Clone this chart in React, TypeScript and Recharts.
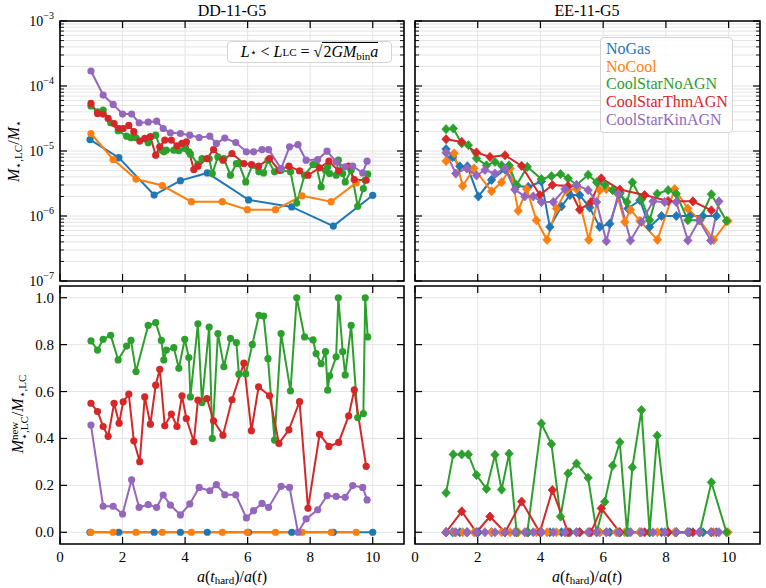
import React from 'react'
import { LineChart, Line, XAxis, YAxis, CartesianGrid, ReferenceArea, Legend } from 'recharts'

const W = 766
const H = 588
const FONT = '"Liberation Serif", "Times New Roman", serif'

const BLUE = '#1f77b4'
const ORANGE = '#ff7f0e'
const GREEN = '#2ca02c'
const RED = '#d62728'
const PURPLE = '#9467bd'

const seriesNames = ['NoGas', 'NoCool', 'CoolStarNoAGN', 'CoolStarThmAGN', 'CoolStarKinAGN']
const xTicks = [0, 2, 4, 6, 8, 10]
const linTicks = [0, 0.2, 0.4, 0.6, 0.8, 1.0]
const logTicks = [
  1e-7, 2e-7, 3e-7, 4e-7, 5e-7, 6e-7, 7e-7, 8e-7, 9e-7,
  1e-6, 2e-6, 3e-6, 4e-6, 5e-6, 6e-6, 7e-6, 8e-6, 9e-6,
  1e-5, 2e-5, 3e-5, 4e-5, 5e-5, 6e-5, 7e-5, 8e-5, 9e-5,
  1e-4, 2e-4, 3e-4, 4e-4, 5e-4, 6e-4, 7e-4, 8e-4, 9e-4,
  1e-3,
]

// ---- DD-11-G5 (left column) ----
const ddGasX = [0.96, 1.88, 3.01, 3.85, 4.71, 6.03, 7.41, 8.74, 10.0]
const ddGasTop = [1.5e-5, 7.9e-6, 2.1e-6, 3.5e-6, 4.6e-6, 1.77e-6, 1.38e-6, 7.0e-7, 2.08e-6]
const ddGasNew = [0, 0, 0, 0, 0, 0, 0, 0, 0]

const ddCoolX = [0.99, 1.7, 2.43, 3.27, 4.2, 5.19, 5.99, 6.89, 7.74, 8.67, 9.47]
const ddCoolTop = [1.86e-5, 7.4e-6, 3.7e-6, 2.94e-6, 1.66e-6, 1.66e-6, 1.25e-6, 1.25e-6, 2.04e-6, 1.66e-6, 3.23e-6]
const ddCoolNew = [0, 0, 0, 0, 0, 0, 0, 0, 0, 0, 0]

const ddNoAgnX = [
  0.99, 1.2, 1.38, 1.62, 1.86, 2.13, 2.27, 2.43, 2.82, 3.06, 3.24, 3.32, 3.4, 3.64, 3.8, 3.99, 4.12, 4.17,
  4.41, 4.54, 4.77, 4.87, 5.05, 5.24, 5.45, 5.64, 5.72, 5.94, 6.15, 6.36, 6.51, 6.65, 6.86, 7.07, 7.37, 7.57,
  7.82, 8.09, 8.19, 8.35, 8.49, 8.56, 8.62, 8.83, 8.9, 9.04, 9.12, 9.31, 9.52, 9.7, 9.76, 9.84,
]
const ddNoAgnTop = [
  4.92e-5, 4.02e-5, 4.26e-5, 2.72e-5, 2.05e-5, 1.69e-5, 1.6e-5, 1.6e-5, 1.34e-5, 1.75e-5, 1.03e-5, 9.7e-6,
  1.03e-5, 1.03e-5, 1.01e-5, 1.09e-5, 9.7e-6, 8.93e-6, 6.27e-6, 7.66e-6, 7.66e-6, 4.5e-6, 8.12e-6, 7.66e-6,
  4.24e-6, 6.41e-6, 6.41e-6, 3.34e-6, 6.04e-6, 4.78e-6, 4.6e-6, 7.23e-6, 4.78e-6, 5.06e-6, 4.78e-6, 1.58e-6,
  4.24e-6, 6.19e-6, 6.19e-6, 2.8e-6, 5.06e-6, 5.7e-6, 4.5e-6, 4.24e-6, 7.23e-6, 4.5e-6, 3.34e-6, 5.06e-6,
  1.41e-6, 2.64e-6, 3.55e-6, 4.4e-6,
]
const ddNoAgnNew = [
  0.816, 0.777, 0.823, 0.84, 0.735, 0.794, 0.818, 0.685, 0.882, 0.894, 0.818, 0.735, 0.777, 0.787, 0.699,
  0.823, 0.745, 0.577, 0.889, 0.553, 0.875, 0.4, 0.847, 0.706, 0.827, 0.809, 0.674, 0.675, 0.801, 0.925,
  0.922, 0.74, 0.393, 0.847, 0.603, 1.0, 0.833, 0.82, 0.762, 0.719, 0.77, 0.606, 0.667, 0.748, 1.0, 0.77,
  0.671, 0.882, 0.489, 0.506, 1.0, 0.833,
]

const ddThmX = [
  0.99, 1.2, 1.38, 1.54, 1.73, 1.89, 2.02, 2.2, 2.36, 2.55, 2.71, 2.89, 3.06, 3.19, 3.35, 3.56, 3.74, 3.9,
  4.04, 4.28, 4.41, 4.7, 4.91, 5.21, 5.5, 5.88, 6.12, 6.35, 6.7, 7.0, 7.32, 7.66, 7.93, 8.3, 8.6, 8.91, 9.23,
  9.41, 9.79,
]
const ddThmTop = [
  5.4e-5, 3.79e-5, 3.7e-5, 3.17e-5, 2.65e-5, 2.22e-5, 2.22e-5, 2.47e-5, 1.98e-5, 1.42e-5, 1.56e-5, 1.66e-5,
  8.63e-6, 1.16e-5, 1.47e-5, 1.47e-5, 1.2e-5, 1.31e-5, 1.38e-5, 5.19e-6, 5.84e-6, 7.66e-6, 1.05e-5, 7.23e-6,
  9.15e-6, 6.41e-6, 6.19e-6, 5.84e-6, 7.66e-6, 5.06e-6, 5.84e-6, 4.94e-6, 4.24e-6, 5.5e-6, 6.97e-6, 4.94e-6,
  5.84e-6, 3.63e-6, 3.55e-6,
]
const ddThmNew = [
  0.55, 0.515, 0.451, 0.409, 0.55, 0.465, 0.556, 0.589, 0.39, 0.301, 0.577, 0.461, 0.627, 0.695, 0.454, 0.504,
  0.451, 0.582, 0.485, 0.386, 0.563, 0.57, 0.475, 0.414, 0.565, 0.721, 0.433, 0.62, 0.582, 0.379, 0.437,
  0.557, 0.102, 0.418, 0.366, 0.383, 0.496, 0.607, 0.281,
]

const ddKinX = [
  0.99, 1.38, 1.7, 2.0, 2.29, 2.53, 2.82, 3.09, 3.3, 3.53, 3.85, 4.15, 4.45, 4.79, 5.0, 5.27, 5.62, 5.96, 6.19,
  6.46, 6.67, 7.07, 7.34, 7.61, 7.87, 8.24, 8.54, 8.83, 9.12, 9.36, 9.68, 9.82,
]
const ddKinTop = [
  1.7e-4, 7.26e-5, 5.21e-5, 3.7e-5, 3.7e-5, 2.72e-5, 2.78e-5, 2.88e-5, 2.22e-5, 1.91e-5, 1.86e-5, 1.75e-5,
  1.61e-5, 1.69e-5, 1.31e-5, 1.58e-5, 1.35e-5, 9.7e-6, 9.7e-6, 1.05e-5, 1.05e-5, 5.37e-6, 1.16e-5, 1.25e-5,
  7.23e-6, 7.4e-6, 9.94e-6, 6.81e-6, 5.7e-6, 5.84e-6, 4.6e-6, 6.97e-6,
]
const ddKinNew = [
  0.457, 0.111, 0.111, 0.078, 0.224, 0.106, 0.118, 0.106, 0.159, 0.116, 0.074, 0.121, 0.191, 0.177, 0.203,
  0.16, 0.16, 0.061, 0.092, 0.123, 0.106, 0.196, 0.191, 0.0, 0.057, 0.096, 0.156, 0.153, 0.149, 0.199, 0.191,
  0.138,
]

// ---- EE-11-G5 (right column) ----
const eeGasX = [
  0.99, 1.2, 1.43, 1.67, 2.02, 2.44, 2.87, 3.24, 3.61, 4.03, 4.3, 4.67, 4.94, 5.25, 5.57, 5.89, 6.21, 6.53,
  6.79, 7.17, 7.48, 7.86, 8.33, 8.76, 9.18, 9.61,
]
const eeGasTop = [
  1.07e-5, 8.1e-6, 5.8e-6, 5.8e-6, 2.0e-6, 3.6e-6, 5.2e-6, 2.9e-6, 2.8e-6, 3.4e-6, 6.8e-7, 1.4e-6, 2.1e-6,
  2.1e-6, 1.35e-6, 6.8e-7, 7.6e-7, 2.3e-6, 1.3e-6, 1.75e-6, 6.8e-7, 1.0e-6, 1.0e-6, 1.0e-6, 1.0e-6, 1.0e-6,
]
const eeGasNew = [0, 0, 0, 0, 0, 0, 0, 0, 0, 0, 0, 0, 0, 0, 0, 0, 0, 0, 0, 0, 0, 0, 0, 0, 0, 0]

const eeCoolX = [
  0.99, 1.25, 1.52, 1.88, 2.44, 2.76, 3.03, 3.29, 3.56, 3.87, 4.21, 4.51, 4.83, 5.15, 5.54, 5.89, 6.1, 6.42,
  6.69, 6.87, 7.17, 7.73, 8.28, 8.7, 9.08, 9.52, 9.98,
]
const eeCoolTop = [
  7.0e-6, 9.2e-6, 2.9e-6, 5.4e-6, 2.4e-6, 3.3e-6, 5.4e-6, 1.2e-6, 2.6e-6, 8.6e-7, 4.3e-7, 1.3e-6, 2.5e-6,
  2.6e-6, 4.3e-7, 2.5e-6, 2.6e-6, 2.3e-6, 8.1e-7, 1.25e-6, 8.4e-7, 4.3e-7, 2.6e-6, 1.3e-6, 8.6e-7, 4.3e-7,
  8.4e-7,
]
const eeCoolNew = [0, 0, 0, 0, 0, 0, 0, 0, 0, 0, 0, 0, 0, 0, 0, 0, 0, 0, 0, 0, 0, 0, 0, 0, 0, 0, 0]

const eeNoAgnX = [
  0.99, 1.22, 1.49, 1.7, 1.96, 2.28, 2.55, 2.76, 3.0, 3.24, 3.58, 4.03, 4.35, 4.64, 4.88, 5.15, 5.52, 5.79,
  6.05, 6.3, 6.53, 6.76, 6.93, 7.22, 7.48, 7.72, 8.07, 8.33, 8.7, 9.08, 9.45, 9.93,
]
const eeNoAgnTop = [
  2.17e-5, 2.22e-5, 1.31e-5, 1.23e-5, 7.7e-6, 6.0e-6, 6.8e-6, 6.0e-6, 6.0e-6, 3.0e-6, 5.7e-6, 3.7e-6, 4.1e-6,
  4.4e-6, 3.8e-6, 3.0e-6, 4.3e-6, 3.3e-6, 3.0e-6, 2.5e-6, 2.2e-6, 1.64e-6, 3.3e-6, 1.8e-6, 8.6e-7, 2.2e-6,
  2.5e-6, 2.2e-6, 8.6e-7, 8.6e-7, 2.16e-6, 8.4e-7,
]
const eeNoAgnNew = [
  0.168, 0.332, 0.332, 0.332, 0.244, 0.185, 0.33, 0.182, 0.335, 0, 0, 0.464, 0.376, 0.067, 0.251, 0.293,
  0.232, 0, 0.13, 0.284, 0.384, 0, 0.277, 0.521, 0, 0.412, 0, 0, 0, 0, 0.213, 0,
]

const eeThmX = [0.99, 1.49, 1.96, 2.39, 2.87, 3.4, 3.98, 4.38, 4.88, 5.25, 5.61, 5.94, 6.53, 7.32, 8.07, 8.86, 9.45]
const eeThmTop = [
  1.52e-5, 1.38e-5, 9.5e-6, 8.1e-6, 8.6e-6, 5.9e-6, 2.1e-6, 3.0e-6, 2.9e-6, 1.25e-6, 1.64e-6, 3.8e-6, 2.55e-6,
  2.1e-6, 1.7e-6, 1.68e-6, 1.22e-6,
]
const eeThmNew = [0, 0.089, 0, 0.067, 0, 0.131, 0, 0.18, 0, 0, 0, 0.102, 0, 0, 0, 0, 0]

const eeKinX = [
  0.99, 1.3, 1.65, 1.96, 2.23, 2.55, 2.87, 3.18, 3.5, 3.77, 4.03, 4.41, 4.78, 5.15, 5.52, 5.79, 6.1, 6.48,
  6.87, 7.22, 7.59, 7.96, 8.33, 8.7, 9.06, 9.43, 9.69,
]
const eeKinTop = [
  9.4e-6, 4.5e-6, 5.4e-6, 4.2e-6, 5.1e-6, 4.5e-6, 5.4e-6, 2.55e-6, 2.0e-6, 2.0e-6, 1.64e-6, 1.64e-6, 2.6e-6,
  3.0e-6, 2.5e-6, 1.64e-6, 4.1e-7, 2.2e-6, 4.2e-7, 8.1e-7, 1.68e-6, 1.64e-6, 1.64e-6, 4.2e-7, 8.6e-7, 4.2e-7,
  1.68e-6,
]
const eeKinNew = [0, 0, 0, 0, 0, 0, 0, 0, 0, 0, 0, 0, 0, 0, 0, 0, 0, 0, 0, 0, 0, 0, 0, 0, 0, 0, 0]

interface Series {
  name: string
  color: string
  x: number[]
  y: number[]
}

const toPoints = (xs: number[], ys: number[]) => xs.map((x, i) => ({ x, y: ys[i] }))

const isDecade = (v: number) => Math.abs(Math.log10(v) - Math.round(Math.log10(v))) < 1e-9

function Diamond(props: any) {
  const { cx, cy, color } = props
  if (cx == null || cy == null) return null
  return (
    <path
      d={`M${cx},${cy - 4.6}L${cx + 4.2},${cy}L${cx},${cy + 4.6}L${cx - 4.2},${cy}Z`}
      fill={color}
      stroke={color}
      strokeWidth={0.8}
      strokeLinejoin="round"
    />
  )
}

const textStyle: React.CSSProperties = { fontFamily: FONT }

const xTick = (top: number, labels: boolean) => (props: any) => {
  const { x, y, payload } = props
  return (
    <g>
      <line x1={x} x2={x} y1={y} y2={y - 7} stroke="#000" strokeWidth={1.2} />
      <line x1={x} x2={x} y1={top} y2={top + 7} stroke="#000" strokeWidth={1.2} />
      {labels && (
        <text x={x} y={y + 18} textAnchor="middle" fontSize={15} style={textStyle} fill="#000">
          {payload.value}
        </text>
      )}
    </g>
  )
}

const yTick = (right: number, log: boolean, labels: boolean) => (props: any) => {
  const { x, y, payload } = props
  const v = payload.value as number
  const major = !log || isDecade(v)
  const len = major ? 7 : 4
  let label = null
  if (labels && major) {
    label = log ? (
      <text x={x - 6} y={y + 5} textAnchor="end" style={textStyle} fill="#000">
        <tspan fontSize={14}>10</tspan>
        <tspan fontSize={10} dy={-7}>{`\u2212${-Math.round(Math.log10(v))}`}</tspan>
      </text>
    ) : (
      <text x={x - 6} y={y + 5} textAnchor="end" fontSize={15} style={textStyle} fill="#000">
        {v.toFixed(1)}
      </text>
    )
  }
  return (
    <g>
      <line x1={x} x2={x + len} y1={y} y2={y} stroke="#000" strokeWidth={major ? 1.2 : 0.9} />
      <line x1={right} x2={right - len} y1={y} y2={y} stroke="#000" strokeWidth={major ? 1.2 : 0.9} />
      {label}
    </g>
  )
}

const renderLegend = (props: any) => {
  const items = [...(props.payload || [])].sort(
    (a: any, b: any) => seriesNames.indexOf(a.value) - seriesNames.indexOf(b.value),
  )
  return (
    <div
      style={{
        border: '1px solid #d4d4d4',
        borderRadius: 4,
        background: 'rgba(255,255,255,0.85)',
        padding: '2px 4px 3px 5px',
        fontFamily: FONT,
        fontSize: 16,
        lineHeight: '17.7px',
      }}
    >
      {items.map((p: any) => (
        <div key={p.value} style={{ color: p.color }}>
          {p.value}
        </div>
      ))}
    </div>
  )
}

interface Box {
  left: number
  top: number
  width: number
  height: number
}

interface PanelProps {
  box: Box
  log: boolean
  diamond: boolean
  series: Series[]
  yLabels: boolean
  xLabels: boolean
  legend?: boolean
}

function Panel({ box, log, diamond, series, yLabels, xLabels, legend }: PanelProps) {
  const { left, top, width, height } = box
  const margin = { top, left: left - 60, right: W - left - width, bottom: H - top - height - 30 }
  const yDomain: [number, number] = log ? [1e-7, 1e-3] : [-0.05, 1.05]
  return (
    <div style={{ position: 'absolute', left: 0, top: 0 }}>
      <LineChart width={W} height={H} margin={margin}>
        <CartesianGrid stroke="#e4e4e4" strokeWidth={1} />
        <XAxis
          type="number"
          dataKey="x"
          domain={[0, 11]}
          ticks={xTicks}
          interval={0}
          height={30}
          tickSize={0}
          tickMargin={0}
          axisLine={false}
          tickLine={false}
          tick={xTick(top, xLabels)}
          allowDataOverflow
        />
        <YAxis
          type="number"
          dataKey="y"
          scale={log ? 'log' : 'linear'}
          domain={yDomain}
          ticks={log ? logTicks : linTicks}
          interval={0}
          width={60}
          tickSize={0}
          tickMargin={0}
          axisLine={false}
          tickLine={false}
          tick={yTick(left + width, log, yLabels)}
          allowDataOverflow
        />
        {series.map((s) => (
          <Line
            key={s.name}
            name={s.name}
            data={toPoints(s.x, s.y)}
            dataKey="y"
            type="linear"
            stroke={s.color}
            strokeWidth={2}
            dot={diamond ? <Diamond color={s.color} /> : { r: 3.6, fill: s.color, stroke: s.color, strokeWidth: 0 }}
            activeDot={false}
            isAnimationActive={false}
          />
        ))}
        <ReferenceArea
          x1={0}
          x2={11}
          y1={yDomain[0]}
          y2={yDomain[1]}
          fill="none"
          fillOpacity={0}
          stroke="#000"
          strokeWidth={1.6}
          ifOverflow="visible"
        />
        {legend && (
          <Legend
            layout="vertical"
            align="center"
            verticalAlign="middle"
            wrapperStyle={{ left: 600, top: 37, width: 'auto', height: 'auto' }}
            content={renderLegend}
          />
        )}
      </LineChart>
    </div>
  )
}

const TL: Box = { left: 60, top: 21, width: 344, height: 260 }
const TR: Box = { left: 415, top: 21, width: 345, height: 260 }
const BL: Box = { left: 60, top: 286, width: 344, height: 258 }
const BR: Box = { left: 415, top: 286, width: 345, height: 258 }

const ddTop: Series[] = [
  { name: 'NoGas', color: BLUE, x: ddGasX, y: ddGasTop },
  { name: 'NoCool', color: ORANGE, x: ddCoolX, y: ddCoolTop },
  { name: 'CoolStarNoAGN', color: GREEN, x: ddNoAgnX, y: ddNoAgnTop },
  { name: 'CoolStarThmAGN', color: RED, x: ddThmX, y: ddThmTop },
  { name: 'CoolStarKinAGN', color: PURPLE, x: ddKinX, y: ddKinTop },
]
const ddBottom: Series[] = [
  { name: 'NoGas', color: BLUE, x: ddGasX, y: ddGasNew },
  { name: 'NoCool', color: ORANGE, x: ddCoolX, y: ddCoolNew },
  { name: 'CoolStarNoAGN', color: GREEN, x: ddNoAgnX, y: ddNoAgnNew },
  { name: 'CoolStarThmAGN', color: RED, x: ddThmX, y: ddThmNew },
  { name: 'CoolStarKinAGN', color: PURPLE, x: ddKinX, y: ddKinNew },
]
const eeTop: Series[] = [
  { name: 'NoGas', color: BLUE, x: eeGasX, y: eeGasTop },
  { name: 'NoCool', color: ORANGE, x: eeCoolX, y: eeCoolTop },
  { name: 'CoolStarNoAGN', color: GREEN, x: eeNoAgnX, y: eeNoAgnTop },
  { name: 'CoolStarThmAGN', color: RED, x: eeThmX, y: eeThmTop },
  { name: 'CoolStarKinAGN', color: PURPLE, x: eeKinX, y: eeKinTop },
]
const eeBottom: Series[] = [
  { name: 'NoGas', color: BLUE, x: eeGasX, y: eeGasNew },
  { name: 'NoCool', color: ORANGE, x: eeCoolX, y: eeCoolNew },
  { name: 'CoolStarNoAGN', color: GREEN, x: eeNoAgnX, y: eeNoAgnNew },
  { name: 'CoolStarThmAGN', color: RED, x: eeThmX, y: eeThmNew },
  { name: 'CoolStarKinAGN', color: PURPLE, x: eeKinX, y: eeKinNew },
]

const centered = (cx: number, cy: number, extra: React.CSSProperties = {}): React.CSSProperties => ({
  position: 'absolute',
  left: cx,
  top: cy,
  transform: 'translate(-50%, -50%)',
  whiteSpace: 'nowrap',
  fontFamily: FONT,
  fontSize: 16,
  color: '#000',
  ...extra,
})

const sub: React.CSSProperties = { fontSize: 11, verticalAlign: '-0.25em', fontStyle: 'normal' }

function XLabel() {
  return (
    <span>
      <i>a</i>(<i>t</i>
      <span style={sub}>hard</span>)/<i>a</i>(<i>t</i>)
    </span>
  )
}

export default function App() {
  return (
    <div style={{ position: 'absolute', left: 0, top: 0, width: W, height: H, background: '#fff', overflow: 'hidden' }}>
      <Panel box={TL} log diamond={false} series={ddTop} yLabels xLabels={false} />
      <Panel box={TR} log diamond series={eeTop} yLabels={false} xLabels={false} legend />
      <Panel box={BL} log={false} diamond={false} series={ddBottom} yLabels xLabels />
      <Panel box={BR} log={false} diamond series={eeBottom} yLabels={false} xLabels />

      <div style={centered(232, 11)}>DD-11-G5</div>
      <div style={centered(587, 11)}>EE-11-G5</div>

      <div style={centered(232, 577)}>
        <XLabel />
      </div>
      <div style={centered(587, 577)}>
        <XLabel />
      </div>

      <div style={centered(15, 151, { transform: 'translate(-50%, -50%) rotate(-90deg)' })}>
        <i>M</i>
        <span style={sub}>{'\u22c6,LC'}</span>/<i>M</i>
        <span style={sub}>{'\u22c6'}</span>
      </div>

      <div style={centered(19, 414, { transform: 'translate(-50%, -50%) rotate(-90deg)' })}>
        <i>M</i>
        <span
          style={{
            display: 'inline-flex',
            flexDirection: 'column',
            verticalAlign: 'middle',
            fontSize: 11,
            lineHeight: '10px',
          }}
        >
          <span>new</span>
          <span>{'\u22c6,LC'}</span>
        </span>
        /<i>M</i>
        <span style={sub}>{'\u22c6,LC'}</span>
      </div>

      <div
        style={{
          position: 'absolute',
          left: 227,
          top: 41,
          width: 165,
          height: 22,
          boxSizing: 'border-box',
          border: '1px solid #d4d4d4',
          borderRadius: 4,
          background: 'rgba(255,255,255,0.85)',
          fontFamily: FONT,
          fontSize: 16,
          display: 'flex',
          alignItems: 'center',
          justifyContent: 'center',
          whiteSpace: 'nowrap',
        }}
      >
        <i>L</i>
        <span style={sub}>{'\u22c6'}</span>
        <span style={{ margin: '0 4px' }}>&lt;</span>
        <i>L</i>
        <span style={sub}>LC</span>
        <span style={{ margin: '0 4px' }}>=</span>
        <span>{'\u221a'}</span>
        <span style={{ borderTop: '1px solid #000', paddingLeft: 1 }}>
          2<i>GM</i>
          <span style={sub}>bin</span>
          <i>a</i>
        </span>
      </div>
    </div>
  )
}
